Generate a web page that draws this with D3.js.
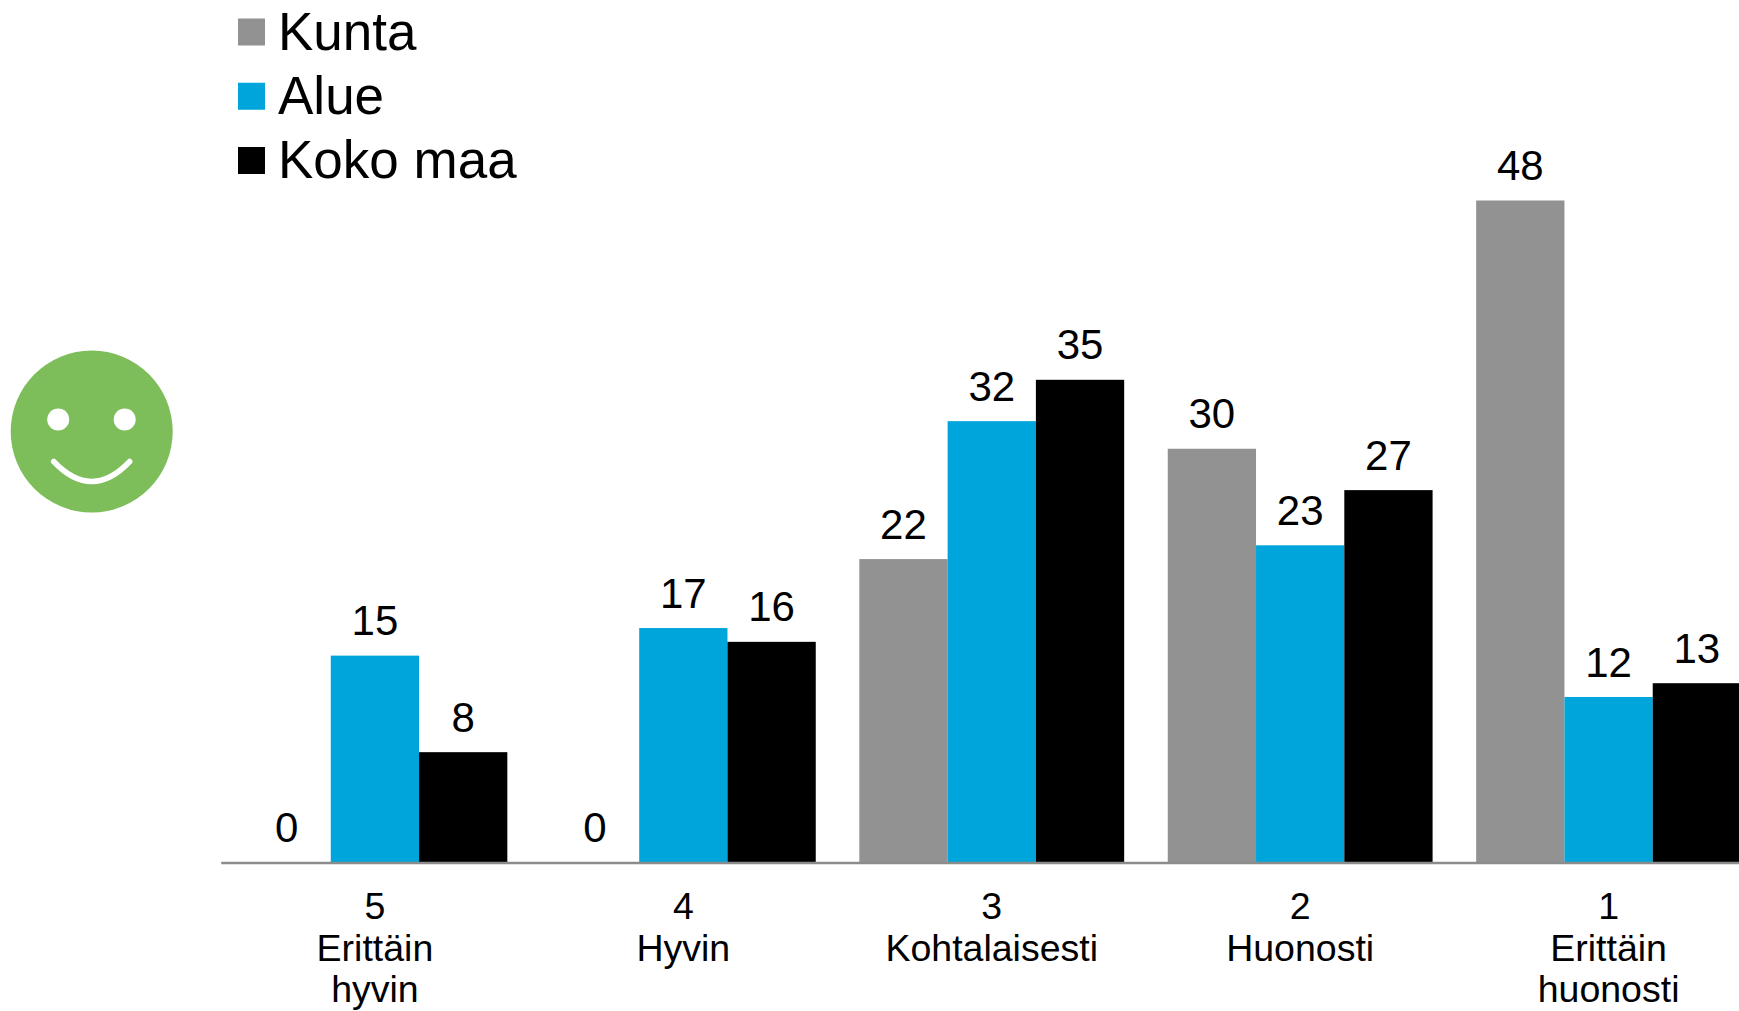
<!DOCTYPE html>
<html>
<head>
<meta charset="utf-8">
<script src="https://cdn.jsdelivr.net/npm/d3@7"></script>
<style>
    html, body { margin: 0; background: #fff; overflow: hidden; }
    text { font-family: "Liberation Sans", Arial, sans-serif; fill: #000; }
</style>
</head>
<body>
<svg id="chart"></svg>
<script>
// Valeurs
const categories = ["5", "4", "3", "2", "1"];
const categoryLabels = [["5", "Erittäin", "hyvin"], ["4", "Hyvin"], ["3", "Kohtalaisesti"], ["2", "Huonosti"], ["1", "Erittäin", "huonosti"]];
const seriesNames = ["Kunta", "Alue", "Koko maa"];
const kunta = [0, 0, 22, 30, 48];
const alue = [15, 17, 32, 23, 12];
const kokoMaa = [8, 16, 35, 27, 13];
const seriesValues = [kunta, alue, kokoMaa];
const colors = ["#929292", "#00a5db", "#000000"];

const width = 1739, height = 1011;
const margin = { top: 200.5, left: 220.7, bottom: 148.5 };
const plotRight = 1762.8; // le dernier groupe dépasse de l'image

const svg = d3.select("#chart").attr("width", width).attr("height", height);

const x = d3.scaleBand()
    .domain(categories)
    .range([margin.left, plotRight])
    .paddingInner(0.1413)
    .paddingOuter(0.07065);

const xSeries = d3.scaleBand()
    .domain(seriesNames)
    .range([0, x.bandwidth()]);

const y = d3.scaleLinear()
    .domain([0, 48])
    .range([height - margin.bottom, margin.top]);

// Barres et étiquettes
seriesNames.forEach((name, s) => {
    const data = categories.map((c, i) => ({ c, v: seriesValues[s][i] }));

    svg.append("g").selectAll("rect")
        .data(data)
        .enter().append("rect")
        .attr("x", d => x(d.c) + xSeries(name))
        .attr("y", d => y(d.v))
        .attr("width", xSeries.bandwidth())
        .attr("height", d => y(0) - y(d.v))
        .attr("fill", colors[s]);

    svg.append("g").selectAll("text")
        .data(data)
        .enter().append("text")
        .attr("x", d => x(d.c) + xSeries(name) + xSeries.bandwidth() / 2)
        .attr("y", d => y(d.v) - 20.5)
        .attr("text-anchor", "middle")
        .style("font-size", "42px")
        .text(d => d.v);
});

// Axe des catégories
const axis = svg.append("g")
    .attr("transform", `translate(0,${y(0)})`)
    .call(d3.axisBottom(x).tickSize(0).tickSizeOuter(0));

axis.select(".domain").attr("stroke", "#8c8c8c").attr("stroke-width", 2.5);

axis.selectAll(".tick text").each(function(d, i) {
    const t = d3.select(this).text(null)
        .attr("y", 0)
        .attr("dy", null)
        .style("font-size", "37.5px");
    categoryLabels[i].forEach((line, l) => {
        t.append("tspan")
            .attr("x", 0)
            .attr("y", 56.5 + l * 41.7)
            .text(line);
    });
});

// Légende
const legend = svg.append("g");
const legendY = d3.scalePoint().domain(seriesNames).range([32, 160.5]);

seriesNames.forEach((name, s) => {
    legend.append("rect")
        .attr("x", 238)
        .attr("y", legendY(name) - 13.5)
        .attr("width", 27)
        .attr("height", 27)
        .attr("fill", colors[s]);
    legend.append("text")
        .attr("x", 278)
        .attr("y", legendY(name) + 17.5)
        .style("font-size", "53px")
        .text(name);
});

// Smiley
const face = svg.append("g").attr("transform", "translate(91.7,431.5)");
face.append("circle").attr("r", 81).attr("fill", "#7dbd5a");
face.selectAll(".eye")
    .data([-33.5, 33])
    .enter().append("circle")
    .attr("class", "eye")
    .attr("cx", d => d)
    .attr("cy", -12)
    .attr("r", 11)
    .attr("fill", "#fff");
face.append("path")
    .attr("d", "M-38,30Q0,70 38,30")
    .attr("fill", "none")
    .attr("stroke", "#fff")
    .attr("stroke-width", 5.5)
    .attr("stroke-linecap", "round");
</script>
</body>
</html>
